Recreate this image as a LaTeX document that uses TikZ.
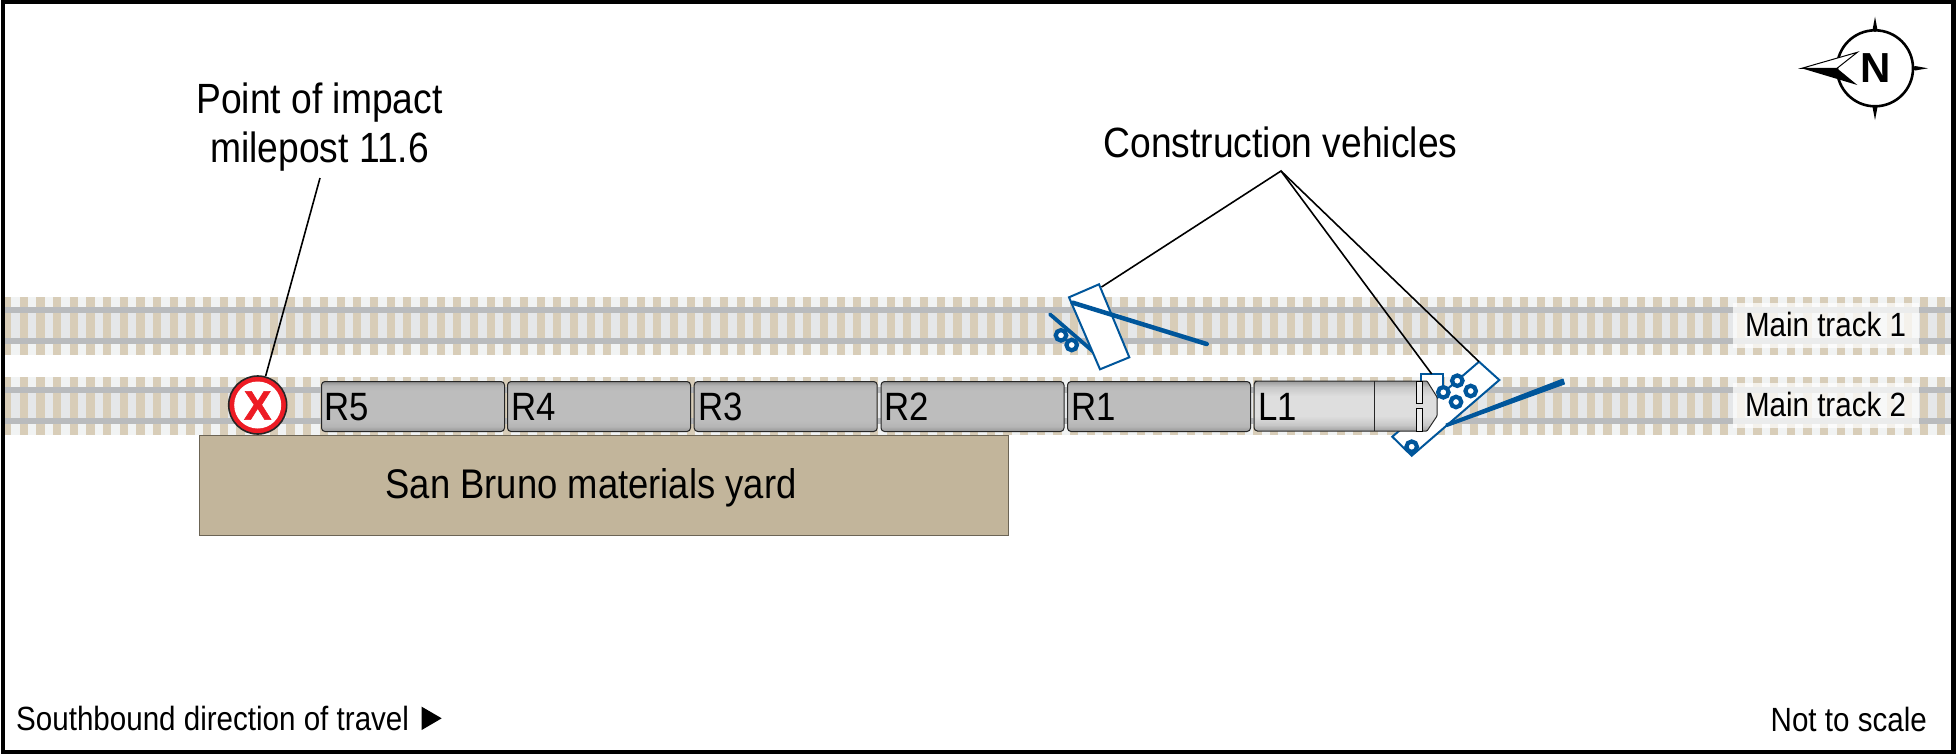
\documentclass[tikz,border=0pt]{standalone}
\usepackage{fontspec}
\setmainfont[FakeStretch=0.88]{Liberation Sans}
\newfontfamily\boldfont{Liberation Sans Bold}
\newfontfamily\xfont[FakeBold=1.5]{Liberation Sans Bold}
\usetikzlibrary{calc}
\definecolor{tiecol}{HTML}{D8CDB8}
\definecolor{bandcol}{HTML}{F1F3F3}
\definecolor{innercol}{HTML}{E5E7E9}
\definecolor{railcol}{HTML}{B9BBBD}
\definecolor{yardcol}{HTML}{C2B59B}
\definecolor{vehblue}{HTML}{00569B}
\definecolor{markred}{HTML}{ED1C24}
\pgfdeclareverticalshading{carshade}{100bp}{color(0bp)=(black!42!white);color(25bp)=(black!42!white);color(30bp)=(black!29!white);color(36bp)=(black!26!white);color(66bp)=(black!26!white);color(71bp)=(black!29!white);color(75bp)=(black!44!white);color(100bp)=(black!44!white)}
\pgfdeclareverticalshading{locoshade}{100bp}{color(0bp)=(black!38!white);color(25bp)=(black!38!white);color(31bp)=(black!22!white);color(40bp)=(black!13!white);color(60bp)=(black!13!white);color(69bp)=(black!22!white);color(75bp)=(black!40!white);color(100bp)=(black!40!white)}
\tikzset{
  x=1pt,y=-1pt,
  car/.style={draw=black!85,line width=1pt,rounded corners=3.5pt,shading=carshade},
  carlabel/.style={anchor=west,inner sep=0pt,font=\fontsize{39.5}{40}\selectfont},
  biglabel/.style={inner sep=0pt,align=center,font=\fontsize{42.3}{49}\selectfont},
  yardtext/.style={inner sep=0pt,font=\fontsize{41.4}{49}\selectfont},
  smalllabel/.style={inner sep=0pt,font=\fontsize{33.6}{36}\selectfont},
  leader/.style={draw=black,line width=1.6pt},
  vehbody/.style={draw=vehblue,fill=white,line width=2pt,line join=miter},
  arm/.style={draw=vehblue,line width=4.5pt,line cap=round},
  wheel/.style={circle,draw=vehblue,fill=white,line width=4.2pt,minimum size=10.5pt,inner sep=0pt},
  labelbox/.style={fill=white,fill opacity=.72,draw=none},
}
\begin{document}
\begin{tikzpicture}
\useasboundingbox (0,0) rectangle (1956,755);
\fill[white] (0,0) rectangle (1956,755);
% tracks
\foreach \ty in {297,377}{
  \fill[bandcol] (3,\ty) rectangle (1952,\ty+58);
  \fill[innercol] (3,\ty+16) rectangle (1952,\ty+41);
  \foreach \i in {0,...,116}{
    \fill[tiecol] ({3.1+\i*16.67},\ty) rectangle ({11.3+\i*16.67},\ty+58);
  }
  \fill[railcol] (3,\ty+10) rectangle (1952,\ty+16);
  \fill[railcol] (3,\ty+41) rectangle (1952,\ty+47);
}
\fill[labelbox] (1733,303) rectangle (1919,348);
\fill[labelbox] (1733,383) rectangle (1919,428);
\node[smalllabel] (mt1) at (1825.5,324) {Main track 1};
\node[smalllabel] (mt2) at (1825.5,404) {Main track 2};
% yard
\node[draw=black!45!yardcol,fill=yardcol,line width=.8pt,minimum width=809pt,minimum height=100pt,inner sep=0pt,anchor=north west] (yard) at (199,434.5) {};
\node[yardtext] (yardlabel) at (591,488) {San Bruno materials yard};
% construction vehicle 1
\draw[arm,line width=3.8pt] (1050,314.3) -- (1093.3,351.7);
\node[wheel] (w1) at (1061,335.3) {};
\node[wheel] (w2) at (1071.7,345) {};
\draw[vehbody] (1069,297.3) -- (1099,284.3) -- (1129.3,357.3) -- (1100,369.3) -- cycle;
\draw[arm] (1072.7,302.7) -- (1206.7,344);
% construction vehicle 2
\draw[vehbody] (1420.7,400) -- (1420.7,374) -- (1442.7,374) -- (1442.7,400);
\draw[vehbody] (1479,361.7) -- (1499.3,380) -- (1411.7,455.7) -- (1392.3,436.7) -- cycle;
\fill[vehblue,draw=vehblue,line width=1pt,line join=round] (1446,424) -- (1563,379) -- (1564.5,384) -- (1447,426.5) -- cycle;
% cars
\node[car,minimum width=183pt,minimum height=50pt,inner sep=0pt,anchor=north west] (r5) at (321,381) {};
\node[car,minimum width=183pt,minimum height=50pt,inner sep=0pt,anchor=north west] (r4) at (507,381) {};
\node[car,minimum width=183pt,minimum height=50pt,inner sep=0pt,anchor=north west] (r3) at (693.7,381) {};
\node[car,minimum width=183pt,minimum height=50pt,inner sep=0pt,anchor=north west] (r2) at (880.5,381) {};
\node[car,minimum width=183pt,minimum height=50pt,inner sep=0pt,anchor=north west] (r1) at (1067,381) {};
\node[carlabel] at (324.5,407) {R5};
\node[carlabel] at (511.5,407) {R4};
\node[carlabel] at (698.5,407) {R3};
\node[carlabel] at (884.5,407) {R2};
\node[carlabel] at (1071,407) {R1};
% lead car
\path[draw=black!85,line width=1pt,shading=locoshade,rounded corners=.8pt]
  (1258,381) -- (1427,381) -- (1437,397) -- (1437,416) -- (1427,431) -- (1258,431) [rounded corners=3.5pt] -- (1254,431) -- (1254,381) -- cycle;
\draw[black!85,line width=1pt] (1374.3,381) -- (1374.3,431);
\draw[black,line width=1pt,fill=white!93!black] (1416,381) rectangle (1422.7,403);
\draw[black,line width=1pt,fill=white!93!black] (1416,408.3) rectangle (1422.7,431);
\node[carlabel] at (1258,407) {L1};
% wheels of vehicle 2 (over train)
\node[wheel] (w3) at (1443.3,392.3) {};
\node[wheel] (w4) at (1457.3,380.7) {};
\node[wheel] (w5) at (1470.7,391) {};
\node[wheel] (w6) at (1456,402) {};
\node[wheel] (w7) at (1411.7,446.7) {};
% impact marker
\node[circle,draw=black!85,fill=markred,line width=1.6pt,minimum size=58pt,inner sep=0pt] (poi) at (257.7,405) {};
\node[circle,fill=white,minimum size=47pt,inner sep=0pt] (poiin) at (257.7,405) {};
\node[inner sep=0pt,text=markred,font=\xfont\fontsize{41}{41}\selectfont] (poix) at (257.7,405.5) {X};
% labels and leaders
\node[biglabel] (poilabel) at (319.5,127) {Point of impact\\milepost 11.6};
\coordinate (poitop) at (320,178);
\draw[leader] (poitop) -- (poi);
\node[biglabel] (cvlabel) at (1280.5,142) {Construction vehicles};
\coordinate (apex) at (1281,171);
\coordinate (v1) at (1101.5,287);
\coordinate (v2a) at (1431.7,374);
\coordinate (v2b) at (1479,361.7);
\draw[leader] (v1) -- (apex) -- (v2a);
\draw[leader] (apex) -- (v2b);
% footer
\node[smalllabel,anchor=west] (dir) at (16,718) {Southbound direction of travel};
\fill[black] (421.7,706.7) -- (441.7,718.3) -- (421.7,730) -- cycle;
\node[smalllabel,anchor=east] (nts) at (1927,719) {Not to scale};
% compass
\draw[black,line width=2.6pt,fill=white] (1875,68.3) circle (38pt);
\fill[black] (1875,16.7) -- (1877.5,30) -- (1875,32) -- (1872.5,30) -- cycle;
\fill[black] (1875,120) -- (1877.5,107) -- (1875,105) -- (1872.5,107) -- cycle;
\fill[black] (1928,68.3) -- (1915,70.5) -- (1912,68.3) -- (1915,66) -- cycle;
\draw[black,line width=1pt,fill=white,line join=miter] (1801.7,68.3) -- (1857.3,52.3) -- (1837,68.3) -- cycle;
\fill[black] (1801.7,68.3) -- (1857.3,85) -- (1837,68.3) -- cycle;
\node[inner sep=0pt,font=\boldfont\fontsize{42}{42}\selectfont] (north) at (1875.5,68.3) {N};
% frame
\draw[black,line width=4.2pt] (3,2) rectangle (1953.5,752);
\end{tikzpicture}
\end{document}
